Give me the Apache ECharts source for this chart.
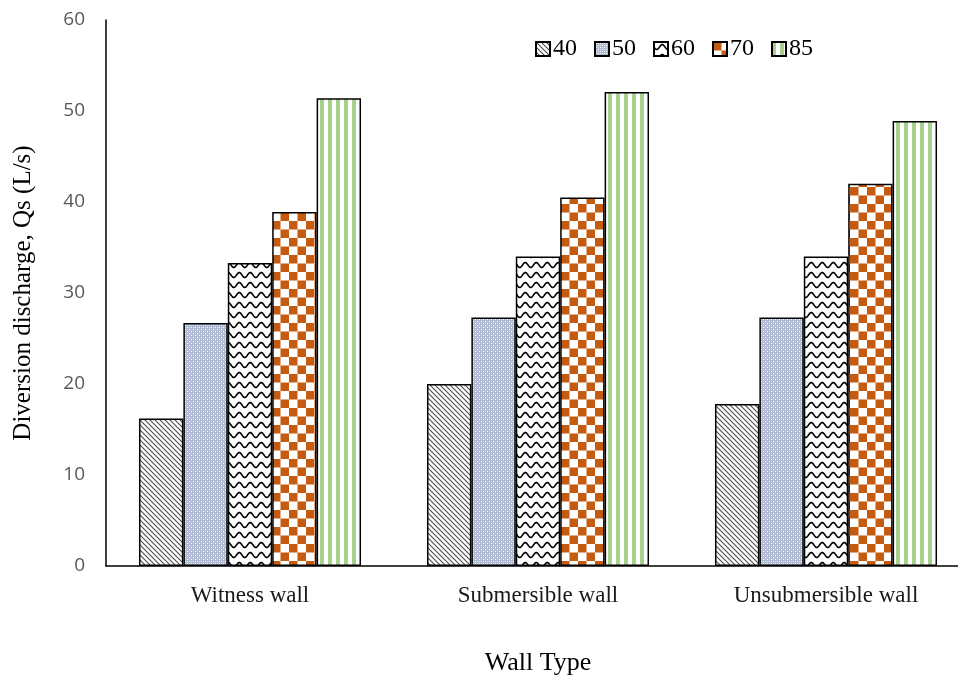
<!DOCTYPE html>
<html>
<head>
<meta charset="utf-8">
<script src="https://cdn.jsdelivr.net/npm/echarts@6/dist/echarts.min.js"></script>
<style>
html,body{margin:0;padding:0;background:#fff;}
#chart{width:958px;height:676px;}
</style>
</head>
<body>
<div id="chart"></div>
<script>
const categories = ['Witness wall', 'Submersible wall', 'Unsubmersible wall'];
const seriesNames = ['40', '50', '60', '70', '85'];
const s40 = [16.2, 20.0, 17.8];
const s50 = [26.7, 27.3, 27.3];
const s60 = [33.3, 34.0, 34.0];
const s70 = [38.9, 40.5, 42.0];
const s85 = [51.4, 52.1, 48.9];
const yTicks = [0, 10, 20, 30, 40, 50, 60];

function mk(w, h, draw) {
  const c = document.createElement('canvas');
  c.width = w; c.height = h;
  const g = c.getContext('2d');
  g.fillStyle = '#fff'; g.fillRect(0, 0, w, h);
  draw(g, w, h);
  return c;
}
const pat40 = mk(5, 5, (g, w, h) => {
  g.strokeStyle = '#4a4a4a'; g.lineWidth = 1.1;
  for (let k = -1; k <= 1; k++) {
    g.beginPath(); g.moveTo(k * w - 1, -1); g.lineTo(k * w + w + 1, h + 1); g.stroke();
  }
});
const pat50 = mk(4, 4, (g) => {
  g.fillStyle = '#afbad0'; g.fillRect(0, 0, 4, 4);
  g.fillStyle = '#ffffff'; g.fillRect(1, 1, 1, 1); g.fillRect(3, 3, 1, 1);
  g.fillStyle = '#d5dbe7'; g.fillRect(1, 3, 1, 1); g.fillRect(3, 1, 1, 1);
});
const pat60 = mk(11, 10, (g, w, h) => {
  g.strokeStyle = '#000'; g.lineWidth = 1.6;
  g.beginPath();
  for (let x = -1; x <= w + 1; x += 0.5) {
    const y = 5 + 2.4 * Math.sin(2 * Math.PI * x / w);
    if (x === -1) g.moveTo(x, y); else g.lineTo(x, y);
  }
  g.stroke();
});
const pat70 = mk(17, 17, (g) => {
  g.fillStyle = '#c55a11';
  g.fillRect(0, 0, 8.5, 8.5); g.fillRect(8.5, 8.5, 8.5, 8.5);
});
const pat85 = mk(8, 4, (g) => {
  g.fillStyle = '#a9d18e'; g.fillRect(0, 0, 4, 4);
});
const patterns = [pat40, pat50, pat60, pat70, pat85];
const data = [s40, s50, s60, s70, s85];

const chart = echarts.init(document.getElementById('chart'), null, {renderer: 'canvas'});
const option = {
  animation: false,
  backgroundColor: '#fff',
  grid: {left: 106, top: 20, width: 864, height: 546, containLabel: false, outerBoundsMode: 'none'},
  legend: {
    left: 530, top: 32,
    itemWidth: 14, itemHeight: 14, itemGap: 17,
    icon: 'rect',
    textStyle: {fontFamily: 'Liberation Serif', fontSize: 24, color: '#000', padding: [0, 0, 0, -2]},
    data: seriesNames
  },
  xAxis: {
    type: 'category',
    data: categories,
    axisLine: {lineStyle: {color: '#000', width: 1.5}},
    axisTick: {show: false},
    axisLabel: {fontFamily: 'Liberation Serif', fontSize: 23, color: '#1a1a1a', margin: 18},
    name: 'Wall Type',
    nameLocation: 'middle',
    nameGap: 84,
    nameTextStyle: {fontFamily: 'Liberation Serif', fontSize: 26, color: '#000'}
  },
  yAxis: {
    type: 'value',
    min: yTicks[0], max: yTicks[yTicks.length - 1], interval: 10,
    axisLine: {show: true, lineStyle: {color: '#000', width: 1.5}},
    axisTick: {show: false},
    splitLine: {show: false},
    axisLabel: {fontFamily: 'Open Sans', fontSize: 19, color: '#595959', margin: 21},
    name: 'Diversion discharge, Qs (L/s)',
    nameLocation: 'middle',
    nameGap: 70,
    nameTextStyle: {fontFamily: 'Liberation Serif', fontSize: 25, color: '#000'}
  },
  series: seriesNames.map((n, i) => ({
    name: n,
    type: 'bar',
    data: data[i],
    barGap: '0%',
    barCategoryGap: '22.9%',
    itemStyle: {
      color: {image: patterns[i], repeat: 'repeat'},
      borderColor: '#000',
      borderWidth: 1.5
    }
  }))
};
chart.setOption(option);
</script>
</body>
</html>
